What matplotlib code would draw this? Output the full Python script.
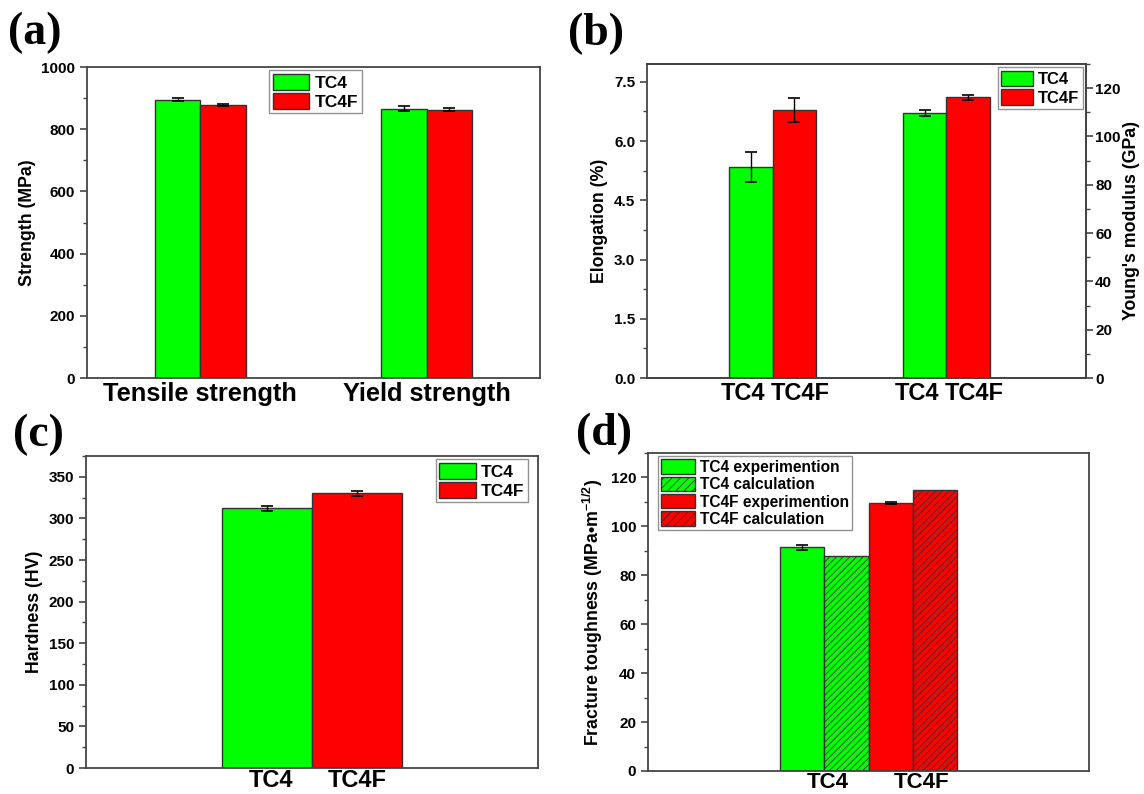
import matplotlib.pyplot as plt
from matplotlib.ticker import MultipleLocator
from matplotlib.patches import Patch

plt.rcParams['font.family'] = ['Liberation Sans', 'DejaVu Sans']
plt.rcParams['font.weight'] = 'bold'
plt.rcParams['axes.labelweight'] = 'bold'
plt.rcParams['mathtext.fontset'] = 'custom'
plt.rcParams['mathtext.rm'] = 'Liberation Sans:bold'
plt.rcParams['mathtext.bf'] = 'Liberation Sans:bold'
plt.rcParams['mathtext.default'] = 'bf'
plt.rcParams['hatch.linewidth'] = 0.6

GREEN = '#00ff00'
RED = '#ff0000'
EDGE = '#333333'

# (a) strength
strength_groups = ['Tensile strength', 'Yield strength']
strength_tc4 = [895, 865]
strength_tc4_err = [5, 8]
strength_tc4f = [877, 863]
strength_tc4f_err = [3, 5]

# (b) elongation (left axis) and Young's modulus (right axis)
elong = [5.34, 6.78]
elong_err = [0.38, 0.31]
modulus = [109.8, 116.2]
modulus_err = [1.2, 0.9]
b_labels = ['TC4', 'TC4F']

# (c) hardness
hardness = [312, 330]
hardness_err = [3, 3.5]
c_labels = ['TC4', 'TC4F']

# (d) fracture toughness
tough_exp = [91.5, 109.5]
tough_exp_err = [1.0, 0.4]
tough_calc = [87.8, 114.8]
d_labels = ['TC4', 'TC4F']

W, H = 1144, 794
fig = plt.figure(figsize=(W / 100, H / 100), dpi=100)


def box(l, t, r, b):
    return [l / W, 1 - b / H, (r - l) / W, (b - t) / H]


def style(ax):
    for s in ax.spines.values():
        s.set_color('#444444')
        s.set_linewidth(1.3)
    ax.tick_params(axis='y', which='major', direction='out', length=5, width=1.2,
                   labelsize=11, colors='#444444', labelcolor='black')
    ax.tick_params(axis='y', which='minor', direction='out', length=3, width=1.0,
                   colors='#444444')
    ax.tick_params(axis='x', which='both', length=0, labelsize=17, pad=3)


def legend(ax, handles, loc, bbox, fs=12.5, hl=2.1):
    lg = ax.legend(handles=handles, loc=loc, bbox_to_anchor=bbox, fontsize=fs,
                   frameon=True, fancybox=False, edgecolor='#777777',
                   handlelength=hl, handleheight=1.05, labelspacing=0.12,
                   borderpad=0.2, handletextpad=0.3, borderaxespad=0.2)
    lg.get_frame().set_linewidth(1.0)
    return lg


ekw = dict(ecolor='black', elinewidth=1.0, capsize=4, capthick=1.2)
bw = 0.2
YL = 12.8

# ---------------- (a)
ax = fig.add_axes(box(87, 67, 540, 378))
style(ax)
xa = [1, 2]
ax.bar([x - bw / 2 for x in xa], strength_tc4, bw, yerr=strength_tc4_err,
       color=GREEN, edgecolor=EDGE, linewidth=1, error_kw=ekw)
ax.bar([x + bw / 2 for x in xa], strength_tc4f, bw, yerr=strength_tc4f_err,
       color=RED, edgecolor=EDGE, linewidth=1, error_kw=ekw)
ax.set_xlim(0.5, 2.5)
ax.set_ylim(0, 1000)
ax.yaxis.set_major_locator(MultipleLocator(200))
ax.yaxis.set_minor_locator(MultipleLocator(100))
ax.set_xticks(xa)
ax.set_xticklabels(strength_groups, fontsize=18.3)
ax.tick_params(axis='x', pad=3)
ax.set_ylabel('Strength (MPa)', fontsize=YL)
legend(ax, [Patch(facecolor=GREEN, edgecolor=EDGE, label='TC4'),
            Patch(facecolor=RED, edgecolor=EDGE, label='TC4F')],
       'upper left', (0.395, 1.0))

# ---------------- (b)
ax = fig.add_axes(box(647, 64, 1086, 378))
style(ax)
bw_b = 0.25
ax.bar(1 - bw_b / 2, elong[0], bw_b, yerr=elong_err[0], color=GREEN,
       edgecolor=EDGE, linewidth=1, error_kw=ekw)
ax.bar(1 + bw_b / 2, elong[1], bw_b, yerr=elong_err[1], color=RED,
       edgecolor=EDGE, linewidth=1, error_kw=ekw)
ax.set_xlim(0.278, 2.803)
ax.set_ylim(0, 7.95)
ax.yaxis.set_major_locator(MultipleLocator(1.5))
ax.yaxis.set_minor_locator(MultipleLocator(0.75))
ax.yaxis.set_major_formatter(plt.FormatStrFormatter('%.1f'))
ax.set_ylabel('Elongation (%)', fontsize=YL)
ax.set_xticks([1 - bw_b / 2 - 0.045, 1 + bw_b / 2 + 0.035,
               2 - bw_b / 2 - 0.045, 2 + bw_b / 2 + 0.035])
ax.set_xticklabels(b_labels + b_labels)
ax2 = ax.twinx()
style(ax2)
ax2.tick_params(axis='y', which='major', pad=1.5)
ax2.spines['left'].set_visible(False)
ax2.bar(2 - bw_b / 2, modulus[0], bw_b, yerr=modulus_err[0], color=GREEN,
        edgecolor=EDGE, linewidth=1, error_kw=ekw)
ax2.bar(2 + bw_b / 2, modulus[1], bw_b, yerr=modulus_err[1], color=RED,
        edgecolor=EDGE, linewidth=1, error_kw=ekw)
ax2.set_ylim(0, 130)
ax2.yaxis.set_major_locator(MultipleLocator(20))
ax2.yaxis.set_minor_locator(MultipleLocator(10))
ax2.set_ylabel("Young's modulus (GPa)", fontsize=YL, labelpad=2)
legend(ax2, [Patch(facecolor=GREEN, edgecolor=EDGE, label='TC4'),
             Patch(facecolor=RED, edgecolor=EDGE, label='TC4F')],
       'upper right', (1.0, 1.0), fs=12, hl=1.9)

# ---------------- (c)
ax = fig.add_axes(box(86, 456, 538, 768))
style(ax)
ax.bar(1 - bw / 2, hardness[0], bw, yerr=hardness_err[0], color=GREEN,
       edgecolor=EDGE, linewidth=1, error_kw=ekw)
ax.bar(1 + bw / 2, hardness[1], bw, yerr=hardness_err[1], color=RED,
       edgecolor=EDGE, linewidth=1, error_kw=ekw)
ax.set_xlim(0.5, 1.5)
ax.set_ylim(0, 375)
ax.yaxis.set_major_locator(MultipleLocator(50))
ax.yaxis.set_minor_locator(MultipleLocator(25))
ax.set_xticks([1 - bw / 2 + 0.01, 1 + bw / 2])
ax.set_xticklabels(c_labels)
ax.tick_params(axis='x', pad=1)
ax.set_ylabel('Hardness (HV)', fontsize=YL)
legend(ax, [Patch(facecolor=GREEN, edgecolor=EDGE, label='TC4'),
            Patch(facecolor=RED, edgecolor=EDGE, label='TC4F')],
       'upper right', (0.985, 1.0))

# ---------------- (d)
ax = fig.add_axes(box(648, 453, 1089, 771))
style(ax)
bd = 0.1
ax.bar(1 - 1.5 * bd, tough_exp[0], bd, yerr=tough_exp_err[0], color=GREEN,
       edgecolor=EDGE, linewidth=1, error_kw=ekw)
ax.bar(1 - 0.5 * bd, tough_calc[0], bd, color=GREEN, edgecolor=EDGE,
       linewidth=1, hatch='/////')
ax.bar(1 + 0.5 * bd, tough_exp[1], bd, yerr=tough_exp_err[1], color=RED,
       edgecolor=EDGE, linewidth=1, error_kw=ekw)
ax.bar(1 + 1.5 * bd, tough_calc[1], bd, color=RED, edgecolor=EDGE,
       linewidth=1, hatch='/////')
ax.set_xlim(0.5, 1.5)
ax.set_ylim(0, 130)
ax.yaxis.set_major_locator(MultipleLocator(20))
ax.yaxis.set_minor_locator(MultipleLocator(10))
ax.set_xticks([1 - bd + 0.007, 1 + bd + 0.02])
ax.set_xticklabels(d_labels, fontsize=16)
ax.tick_params(axis='x', pad=0.5)
ax.set_ylabel('Fracture toughness (MPa\u2022m$^{-1/2}$)', fontsize=YL)
legend(ax, [Patch(facecolor=GREEN, edgecolor=EDGE, label='TC4 experimention'),
            Patch(facecolor=GREEN, edgecolor=EDGE, hatch='////', label='TC4 calculation'),
            Patch(facecolor=RED, edgecolor=EDGE, label='TC4F experimention'),
            Patch(facecolor=RED, edgecolor=EDGE, hatch='////', label='TC4F calculation')],
       'upper left', (0.015, 1.0), fs=11.2, hl=2.2)

# panel letters
for lab, x, y in [('(a)', 8, 12), ('(b)', 568, 13), ('(c)', 13, 414), ('(d)', 576, 413)]:
    fig.text(x / W, 1 - y / H, lab, fontsize=33, fontweight='bold',
             family='Liberation Serif', ha='left', va='top')

fig.savefig('out.png', dpi=100)
